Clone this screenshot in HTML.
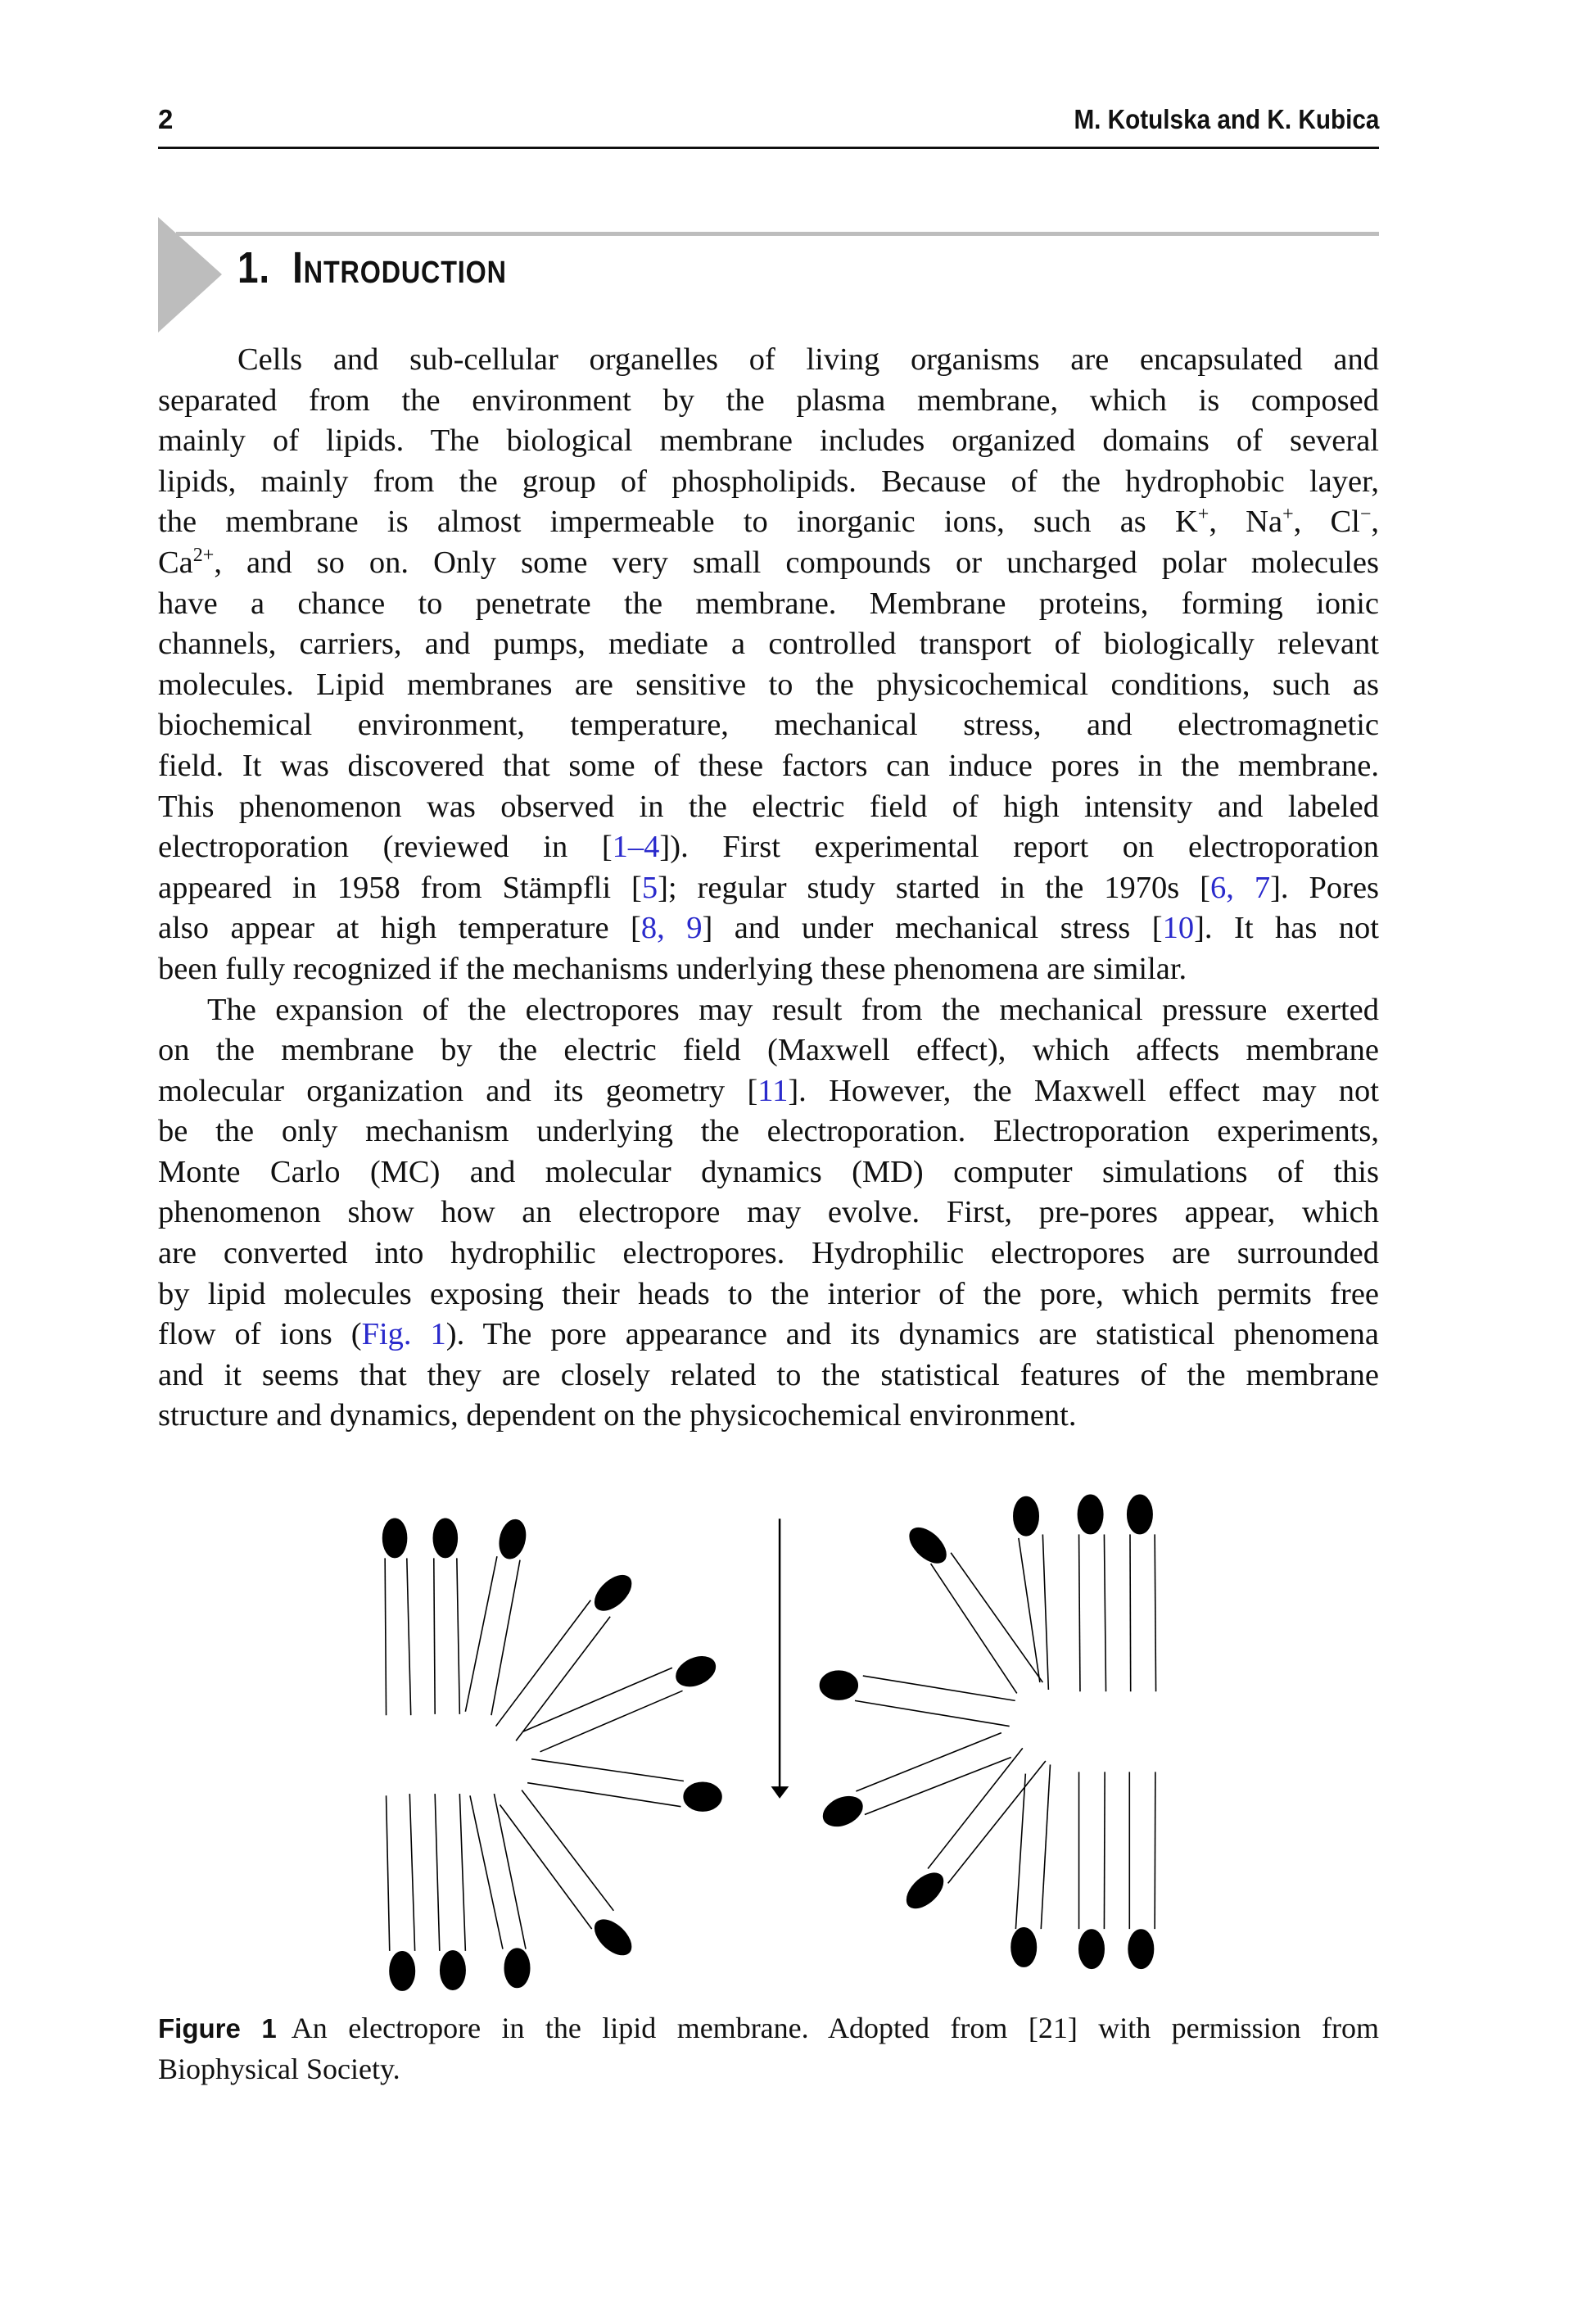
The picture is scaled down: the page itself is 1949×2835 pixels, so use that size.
<!DOCTYPE html>
<html><head><meta charset="utf-8"><style>
html,body{margin:0;padding:0;background:#fff;}
body{width:1949px;height:2835px;position:relative;overflow:hidden;font-family:"Liberation Serif",serif;color:#111;}
.hdr{position:absolute;top:127px;font-family:"Liberation Sans",sans-serif;font-weight:bold;font-size:33px;transform-origin:left top;}
.rule{position:absolute;left:193px;width:1491px;top:179px;height:3px;background:#111;}
.grule{position:absolute;left:215px;width:1469px;top:283px;height:5px;background:#bdbdbd;}
.h1{position:absolute;left:290px;top:296px;font-family:"Liberation Sans",sans-serif;font-weight:bold;font-size:54px;font-variant:small-caps;letter-spacing:1px;transform:scaleX(0.85);transform-origin:left top;}
.body{position:absolute;left:193px;top:415px;width:1491px;font-size:38.5px;line-height:49.6px;}
.l{display:block;height:49.6px;white-space:nowrap;text-align:justify;text-align-last:justify;}
.last{text-align-last:left;}
.ind{padding-left:97px;}
.ind2{padding-left:60px;}
a,.b{color:#2a2acc;text-decoration:none;}
sup{font-size:24px;line-height:0;vertical-align:14px;}
.cap{position:absolute;left:193px;top:2455px;width:1491px;font-size:36px;line-height:43px;}
.cap b{font-family:"Liberation Sans",sans-serif;font-size:33px;margin-right:18px;}
</style></head><body>
<div class="hdr" style="left:193px;">2</div>
<div class="hdr" style="right:265px;transform:scaleX(0.9);transform-origin:right top;">M. Kotulska and K. Kubica</div>
<div class="rule"></div>
<svg style="position:absolute;left:0;top:0" width="400" height="420"><polygon points="193,265 271,335 193,406" fill="#bdbdbd"/></svg>
<div class="grule"></div>
<div class="h1">1.&nbsp; Introduction</div>
<div class="body">
<span class="l ind">Cells and sub-cellular organelles of living organisms are encapsulated and</span>
<span class="l">separated from the environment by the plasma membrane, which is composed</span>
<span class="l">mainly of lipids. The biological membrane includes organized domains of several</span>
<span class="l">lipids, mainly from the group of phospholipids. Because of the hydrophobic layer,</span>
<span class="l">the membrane is almost impermeable to inorganic ions, such as K<sup>+</sup>, Na<sup>+</sup>, Cl<sup>−</sup>,</span>
<span class="l">Ca<sup>2+</sup>, and so on. Only some very small compounds or uncharged polar molecules</span>
<span class="l">have a chance to penetrate the membrane. Membrane proteins, forming ionic</span>
<span class="l">channels, carriers, and pumps, mediate a controlled transport of biologically relevant</span>
<span class="l">molecules. Lipid membranes are sensitive to the physicochemical conditions, such as</span>
<span class="l">biochemical environment, temperature, mechanical stress, and electromagnetic</span>
<span class="l">field. It was discovered that some of these factors can induce pores in the membrane.</span>
<span class="l">This phenomenon was observed in the electric field of high intensity and labeled</span>
<span class="l">electroporation (reviewed in [<a>1–4</a>]). First experimental report on electroporation</span>
<span class="l">appeared in 1958 from Stämpfli [<a>5</a>]; regular study started in the 1970s [<a>6, 7</a>]. Pores</span>
<span class="l">also appear at high temperature [<a>8, 9</a>] and under mechanical stress [<a>10</a>]. It has not</span>
<span class="l last">been fully recognized if the mechanisms underlying these phenomena are similar.</span>
<span class="l ind2">The expansion of the electropores may result from the mechanical pressure exerted</span>
<span class="l">on the membrane by the electric field (Maxwell effect), which affects membrane</span>
<span class="l">molecular organization and its geometry [<a>11</a>]. However, the Maxwell effect may not</span>
<span class="l">be the only mechanism underlying the electroporation. Electroporation experiments,</span>
<span class="l">Monte Carlo (MC) and molecular dynamics (MD) computer simulations of this</span>
<span class="l">phenomenon show how an electropore may evolve. First, pre-pores appear, which</span>
<span class="l">are converted into hydrophilic electropores. Hydrophilic electropores are surrounded</span>
<span class="l">by lipid molecules exposing their heads to the interior of the pore, which permits free</span>
<span class="l">flow of ions (<a>Fig. 1</a>). The pore appearance and its dynamics are statistical phenomena</span>
<span class="l">and it seems that they are closely related to the statistical features of the membrane</span>
<span class="l last">structure and dynamics, dependent on the physicochemical environment.</span>
</div>
<svg style="position:absolute;left:0;top:0" width="1949" height="2835">
<g transform="translate(400,1782) scale(0.7015,0.446)" stroke="#000" stroke-width="1.6" fill="#000">
<g>
<ellipse cx="117" cy="215" rx="21" ry="54"/><ellipse cx="205" cy="215" rx="21" ry="54"/><ellipse cx="322" cy="218" rx="22" ry="54" transform="rotate(6 322 218)"/>
<line x1="100" y1="270" x2="102" y2="700" vector-effect="non-scaling-stroke"/><line x1="138" y1="270" x2="145" y2="700" vector-effect="non-scaling-stroke"/>
<line x1="185" y1="270" x2="187" y2="697" vector-effect="non-scaling-stroke"/><line x1="225" y1="270" x2="230" y2="697" vector-effect="non-scaling-stroke"/>
<line x1="295" y1="265" x2="240" y2="690" vector-effect="non-scaling-stroke"/><line x1="335" y1="275" x2="285" y2="700" vector-effect="non-scaling-stroke"/>
<ellipse cx="497" cy="365" rx="25" ry="52" transform="rotate(25 497 365)"/>
<line x1="458" y1="385" x2="293" y2="730" vector-effect="non-scaling-stroke"/><line x1="492" y1="430" x2="328" y2="770" vector-effect="non-scaling-stroke"/>
<ellipse cx="641" cy="580" rx="30" ry="44" transform="rotate(30 641 580)"/>
<line x1="600" y1="570" x2="340" y2="745" vector-effect="non-scaling-stroke"/><line x1="618" y1="633" x2="370" y2="800" vector-effect="non-scaling-stroke"/>
<ellipse cx="653" cy="923" rx="33" ry="40"/>
<line x1="620" y1="880" x2="355" y2="820" vector-effect="non-scaling-stroke"/><line x1="615" y1="950" x2="348" y2="885" vector-effect="non-scaling-stroke"/>
<ellipse cx="497" cy="1308" rx="25" ry="52" transform="rotate(-25 497 1308)"/>
<line x1="498" y1="1235" x2="338" y2="905" vector-effect="non-scaling-stroke"/><line x1="460" y1="1285" x2="300" y2="945" vector-effect="non-scaling-stroke"/>
<ellipse cx="330" cy="1392" rx="22" ry="54"/>
<line x1="345" y1="1340" x2="290" y2="915" vector-effect="non-scaling-stroke"/><line x1="305" y1="1340" x2="248" y2="920" vector-effect="non-scaling-stroke"/>
<ellipse cx="218" cy="1398" rx="22" ry="54"/>
<line x1="240" y1="1345" x2="230" y2="915" vector-effect="non-scaling-stroke"/><line x1="195" y1="1345" x2="187" y2="915" vector-effect="non-scaling-stroke"/>
<ellipse cx="130" cy="1400" rx="22" ry="54"/>
<line x1="152" y1="1345" x2="143" y2="915" vector-effect="non-scaling-stroke"/><line x1="108" y1="1345" x2="102" y2="920" vector-effect="non-scaling-stroke"/>
<line x1="787" y1="162" x2="787" y2="900" stroke-width="2.5" vector-effect="non-scaling-stroke"/>
<polygon points="772,895 803,895 787,928" stroke="none"/>
<ellipse cx="1216" cy="155" rx="22" ry="54"/><ellipse cx="1328" cy="150" rx="22" ry="54"/><ellipse cx="1414" cy="150" rx="22" ry="54"/>
<line x1="1203" y1="215" x2="1240" y2="610" vector-effect="non-scaling-stroke"/><line x1="1245" y1="205" x2="1255" y2="630" vector-effect="non-scaling-stroke"/>
<line x1="1308" y1="205" x2="1310" y2="635" vector-effect="non-scaling-stroke"/><line x1="1352" y1="205" x2="1355" y2="635" vector-effect="non-scaling-stroke"/>
<line x1="1397" y1="205" x2="1398" y2="635" vector-effect="non-scaling-stroke"/><line x1="1440" y1="205" x2="1442" y2="635" vector-effect="non-scaling-stroke"/>
<ellipse cx="1045" cy="235" rx="25" ry="52" transform="rotate(-25 1045 235)"/>
<line x1="1050" y1="285" x2="1200" y2="640" vector-effect="non-scaling-stroke"/><line x1="1085" y1="255" x2="1245" y2="610" vector-effect="non-scaling-stroke"/>
<ellipse cx="890" cy="618" rx="33" ry="40"/>
<line x1="932" y1="592" x2="1197" y2="660" vector-effect="non-scaling-stroke"/><line x1="918" y1="660" x2="1187" y2="730" vector-effect="non-scaling-stroke"/>
<ellipse cx="897" cy="963" rx="30" ry="44" transform="rotate(30 897 963)"/>
<line x1="920" y1="908" x2="1173" y2="748" vector-effect="non-scaling-stroke"/><line x1="935" y1="972" x2="1190" y2="815" vector-effect="non-scaling-stroke"/>
<ellipse cx="1040" cy="1180" rx="25" ry="52" transform="rotate(25 1040 1180)"/>
<line x1="1045" y1="1120" x2="1210" y2="790" vector-effect="non-scaling-stroke"/><line x1="1080" y1="1160" x2="1250" y2="825" vector-effect="non-scaling-stroke"/>
<ellipse cx="1212" cy="1335" rx="22" ry="54"/><ellipse cx="1330" cy="1340" rx="22" ry="54"/><ellipse cx="1416" cy="1340" rx="22" ry="54"/>
<line x1="1198" y1="1285" x2="1215" y2="860" vector-effect="non-scaling-stroke"/><line x1="1242" y1="1285" x2="1258" y2="835" vector-effect="non-scaling-stroke"/>
<line x1="1308" y1="1285" x2="1308" y2="855" vector-effect="non-scaling-stroke"/><line x1="1352" y1="1285" x2="1353" y2="855" vector-effect="non-scaling-stroke"/>
<line x1="1396" y1="1285" x2="1396" y2="855" vector-effect="non-scaling-stroke"/><line x1="1440" y1="1285" x2="1441" y2="855" vector-effect="non-scaling-stroke"/>
</g></g></svg>
<div class="cap">
<span class="l"><b>Figure 1</b>An electropore in the lipid membrane. Adopted from [21] with permission from</span>
<span class="l last" style="height:43px">Biophysical Society.</span>
</div>
</body></html>
